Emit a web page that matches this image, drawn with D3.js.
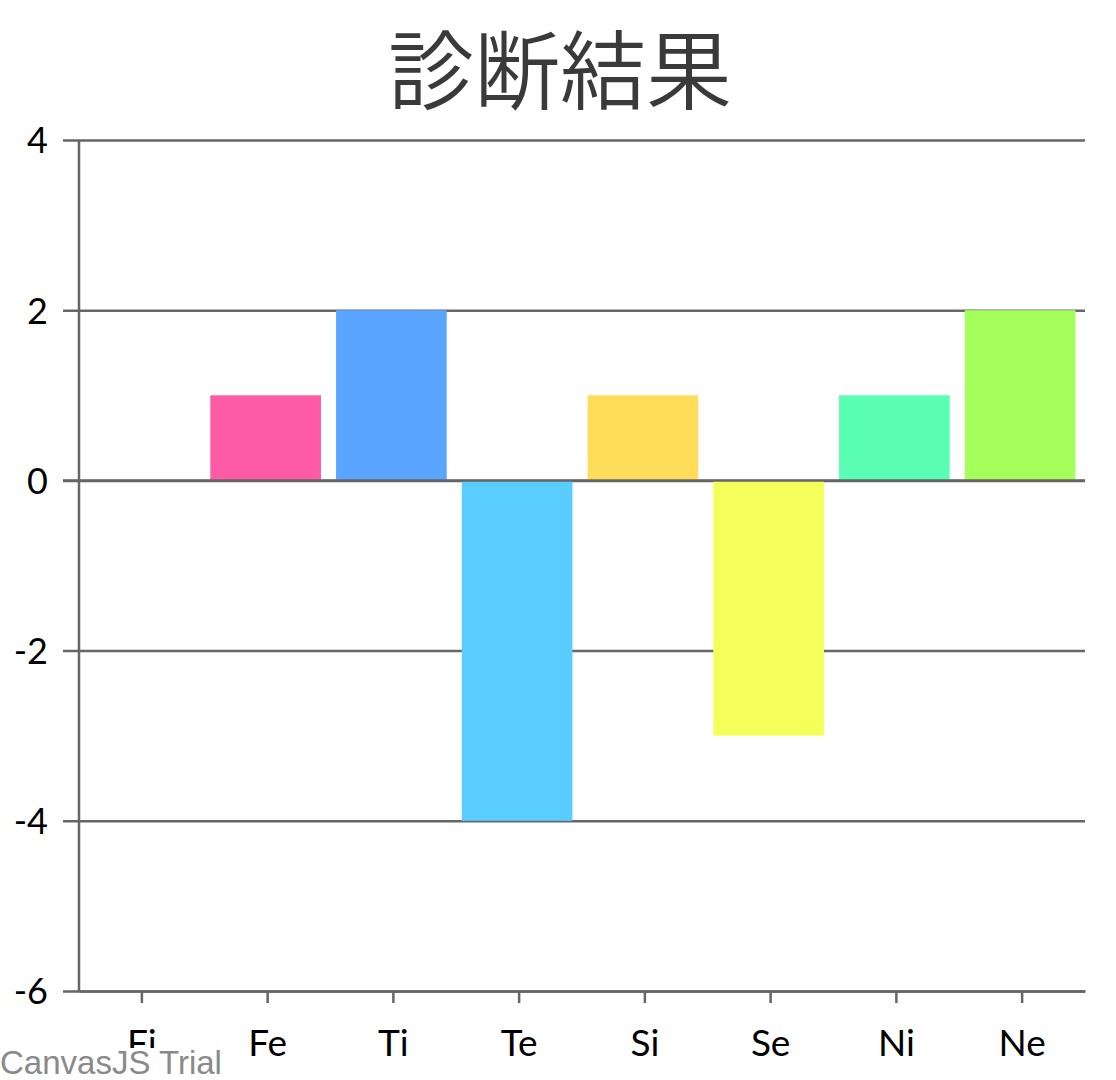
<!DOCTYPE html>
<html>
<head>
<meta charset="utf-8">
<script src="https://cdnjs.cloudflare.com/ajax/libs/d3/7.8.5/d3.min.js"></script>
<style>
  body { margin: 0; background: #fff; }
  svg { display: block; }
</style>
</head>
<body>
<div class="container"></div>
<script>
// chart data
var categories = ["Fi", "Fe", "Ti", "Te", "Si", "Se", "Ni", "Ne"];
var values = [0, 1, 2, -4, 1, -3, 1, 2];
var barColors = ["#5A8CFF", "#FF5AA5", "#5AA5FF", "#5ACDFF", "#FFDD5A", "#F5FF5A", "#5AFFB4", "#A5FF5A"];
var yTicks = [-6, -4, -2, 0, 2, 4];
var titleText = "診断結果";

var width = 1116, height = 1080;
var margin = {top: 140, right: 31, bottom: 89, left: 79};

var svg = d3.select(".container")
    .append("svg")
    .attr("width", width)
    .attr("height", height);

// title
svg.append("text")
    .attr("x", width / 2 + 2)
    .attr("y", 103)
    .attr("text-anchor", "middle")
    .style("font-family", "'Noto Sans CJK JP', sans-serif")
    .style("font-size", "86px")
    .style("font-weight", 350)
    .style("fill", "#3a3a3a")
    .text(titleText);

var x = d3.scaleBand()
    .domain(categories)
    .range([margin.left, width - margin.right])
    .paddingInner(0.12)
    .paddingOuter(0.06);

var y = d3.scaleLinear()
    .domain([-6, 4])
    .range([height - margin.bottom, margin.top]);

var labelFont = "Lato, 'Open Sans', sans-serif";

// horizontal grid lines (with tick stubs on the left)
var yAxis = d3.axisLeft(y)
    .tickValues(yTicks)
    .tickSize(-(width - margin.right - margin.left))
    .tickFormat(function(d) { return String(d); });

var gy = svg.append("g")
    .attr("transform", "translate(" + margin.left + ",0)")
    .call(yAxis);
gy.select(".domain").remove();
gy.selectAll(".tick line")
    .attr("x1", -16)
    .attr("stroke", "#666")
    .attr("stroke-width", 2.5);
gy.selectAll(".tick text")
    .attr("x", -31)
    .attr("dy", "0.36em")
    .style("font-family", labelFont)
    .style("font-size", "36px")
    .style("fill", "#000");

// bars
svg.append("g")
    .selectAll("rect")
    .data(categories)
    .enter()
    .append("rect")
    .attr("x", function(d) { return x(d) - 2; })
    .attr("width", x.bandwidth())
    .attr("y", function(d, i) { return y(Math.max(0, values[i])); })
    .attr("height", function(d, i) { return Math.abs(y(values[i]) - y(0)); })
    .attr("fill", function(d, i) { return barColors[i]; });

// zero line sits on top of bars
svg.append("line")
    .attr("x1", margin.left - 16)
    .attr("x2", width - margin.right)
    .attr("y1", y(0))
    .attr("y2", y(0))
    .attr("stroke", "#666")
    .attr("stroke-width", 2.5);

// left axis line
svg.append("line")
    .attr("x1", margin.left)
    .attr("x2", margin.left)
    .attr("y1", margin.top)
    .attr("y2", height - margin.bottom)
    .attr("stroke", "#666")
    .attr("stroke-width", 2.5);

// bottom axis
var xAxis = d3.axisBottom(x).tickSize(12).tickSizeOuter(0).tickPadding(20);
var gx = svg.append("g")
    .attr("transform", "translate(0," + (height - margin.bottom) + ")")
    .call(xAxis);
gx.select(".domain")
    .attr("stroke", "#666")
    .attr("stroke-width", 2.5);
gx.selectAll(".tick line")
    .attr("stroke", "#666")
    .attr("stroke-width", 2.5);
gx.selectAll(".tick text")
    .attr("dy", "0.9em")
    .style("font-family", labelFont)
    .style("font-size", "37px")
    .style("fill", "#000");

// trial watermark, drawn on a white box like the original
var mark = svg.append("g");
mark.append("rect")
    .attr("x", 0)
    .attr("y", 1048)
    .attr("width", 224)
    .attr("height", 32)
    .attr("fill", "#fff");
mark.append("text")
    .attr("x", 0)
    .attr("y", 1074)
    .style("font-family", "'Liberation Sans', Arial, sans-serif")
    .style("font-size", "33px")
    .style("fill", "#8a8a8a")
    .text("CanvasJS Trial");
</script>
</body>
</html>
